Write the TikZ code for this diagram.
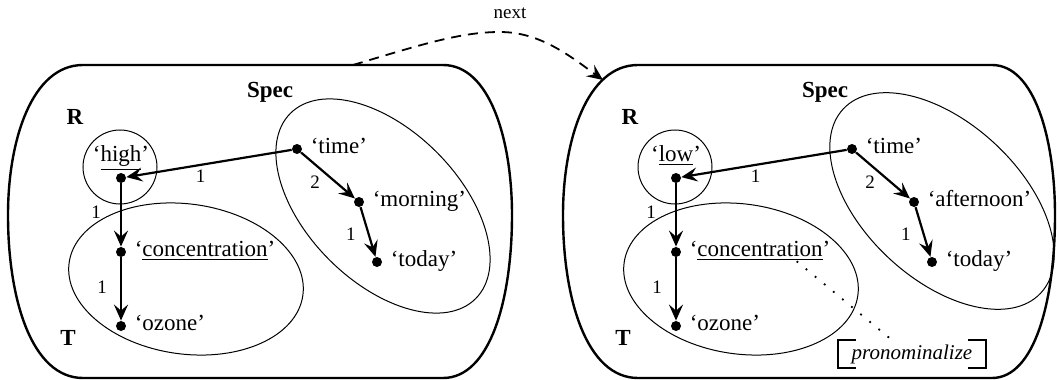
\documentclass[tikz,border=0pt]{standalone}
\usepackage{fontspec}
\setmainfont{Liberation Serif}
\usetikzlibrary{arrows.meta,positioning}
\newcommand{\wordfont}{\fontsize{11.5}{13}\selectfont}
\newcommand{\numfont}{\fontsize{9.5}{11}\selectfont}
\newcommand{\stateframe}[4]{%
 \draw[frame] (#1,65) -- (#2,65)
  .. controls ({#2+0.68*(#4-#2)},65) and (#4,140) .. (#4,215)
  .. controls (#4,300) and ({#2+0.68*(#4-#2)},378) .. (#2,378) -- (#1,378)
  .. controls ({#1-0.68*(#1-#3)},378) and (#3,300) .. (#3,215)
  .. controls (#3,140) and ({#1-0.68*(#1-#3)},65) .. cycle;}
\tikzset{
 frame/.style={line width=1.2pt},
 part/.style={line width=0.5pt},
 dot/.style={circle,fill,inner sep=0pt,minimum size=5pt},
 word/.style={font=\wordfont,inner sep=1pt,text height=1.25ex,text depth=.25ex},
 tag/.style={font=\wordfont\bfseries,inner sep=1pt},
 num/.style={font=\numfont,inner sep=1pt},
 rel/.style={-{Stealth[length=8pt,width=7pt,inset=3pt]},line width=1.1pt},
 nextarr/.style={rel,line width=0.9pt,dash pattern=on 5pt off 3.5pt},
 pron/.style={font=\fontsize{10.5}{12}\selectfont\itshape,minimum width=73.5pt,minimum height=13.5pt,inner sep=0pt},
 bracket/.style={line width=1pt}
}

\begin{document}
\begin{tikzpicture}[x=0.5pt,y=-0.5pt]
\useasboundingbox (0,0) rectangle (1057,380);
% the two states
\stateframe{83}{443}{8}{512}
\stateframe{638}{992}{563}{1055}
\draw[part,rotate around={-45:(383,206)}] (383,206) ellipse [x radius=65.5pt,y radius=38pt];
\draw[part,rotate around={-43:(942,201)}] (942,201) ellipse [x radius=67.5pt,y radius=39pt];
\foreach \s/\dx/\adj/\when in {L/0/high/morning,R/555/low/afternoon} {
 \draw[part] (\dx+120,167) circle [radius=18.5pt];
 \draw[part,rotate around={-8:(\dx+186,279)}] (\dx+186,279) ellipse [x radius=59pt,y radius=37.5pt];
 \node[tag] (spec\s) at (\dx+270,92) {Spec};
 \node[tag] (r\s) at (\dx+75,117) {R};
 \node[tag] (t\s) at (\dx+68,338) {T};
 \node[dot] (hi\s) at (\dx+121,178) {};
 \node[dot] (ti\s) at (\dx+297,149) {};
 \node[dot] (mo\s) at (\dx+359,202) {};
 \node[dot] (to\s) at (\dx+377,262) {};
 \node[dot] (co\s) at (\dx+121,252) {};
 \node[dot] (oz\s) at (\dx+121,326) {};
 \node[word,above=3.2pt of hi\s] (whi\s) {‘\underline{\adj}’};
 \node[word,right=3pt of ti\s] (wti\s) {‘time’};
 \node[word,right=3pt of mo\s] (wmo\s) {‘\when’};
 \node[word,right=3pt of to\s] (wto\s) {‘today’};
 \node[word,right=3pt of co\s] (wco\s) {‘\underline{concentration}’};
 \node[word,right=3pt of oz\s] (woz\s) {‘ozone’};
 \draw[rel] (ti\s) -- node[num,pos=.55,below=1pt] (ea\s) {1} (hi\s);
 \draw[rel] (ti\s) -- node[num,pos=.65,left=6.5pt] (eb\s) {2} (mo\s);
 \draw[rel] (mo\s) -- node[num,pos=.55,left=5pt] (ec\s) {1} (to\s);
 \draw[rel] (hi\s) -- node[num,pos=.45,left=8.5pt] (ed\s) {1} (co\s);
 \draw[rel] (co\s) -- node[num,pos=.47,left=5.5pt] (ee\s) {1} (oz\s);
}
% transition
\coordinate (nextfrom) at (353,65);
\coordinate (nextto) at (603,80);
\node[num] (nextlbl) at (510,13) {next};
\draw[nextarr] (nextfrom) .. controls (420,45) and (460,32) .. (500,32)
 .. controls (540,32) and (570,56) .. (nextto);
% operation on the second state
\node[pron] (pron) at (912,354) {pronominalize};
\draw[bracket] ([xshift=9pt]pron.north west) -- (pron.north west) -- (pron.south west) -- ([xshift=9pt]pron.south west);
\draw[bracket] ([xshift=-9pt]pron.north east) -- (pron.north east) -- (pron.south east) -- ([xshift=-9pt]pron.south east);
\draw[line width=0.9pt,dash pattern=on 0.9pt off 5pt] ([xshift=-18pt]wcoR.south east) -- ([xshift=-10pt]pron.north);
\end{tikzpicture}
\end{document}
